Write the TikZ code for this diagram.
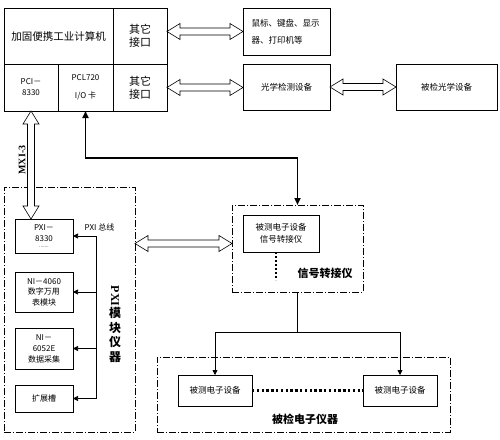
\documentclass[tikz,border=0pt]{standalone}
\usepackage{fontspec}
\setmainfont{Noto Sans CJK SC}
\newfontfamily\serifbf{Liberation Serif}
\usepackage{tikz}
\usetikzlibrary{arrows.meta, positioning, calc}

\begin{document}
\begin{tikzpicture}[x=1pt, y=-1pt, line width=0.8pt,
    cell/.style={draw, inner sep=1pt, outer sep=0pt, align=center, anchor=north west},
    frame/.style={draw, line width=0.7pt, dash pattern=on 7pt off 2pt on 1pt off 2pt,
                  inner sep=0pt, outer sep=0pt, anchor=north west},
    hollow/.style={line width=0.6pt, fill=white, to path={
        let \p1=(\tikztostart), \p2=(\tikztotarget) in
        (\p1) -- ($(\p1)!13pt!(\p2)!8pt!90:(\p2)$) -- ($(\p1)!13pt!(\p2)!3.5pt!90:(\p2)$)
        -- ($(\p2)!13pt!(\p1)!3.5pt!-90:(\p1)$) -- ($(\p2)!13pt!(\p1)!8pt!-90:(\p1)$)
        -- (\p2)
        -- ($(\p2)!13pt!(\p1)!8pt!90:(\p1)$) -- ($(\p2)!13pt!(\p1)!3.5pt!90:(\p1)$)
        -- ($(\p1)!13pt!(\p2)!3.5pt!-90:(\p2)$) -- ($(\p1)!13pt!(\p2)!8pt!-90:(\p2)$)
        -- cycle}},
    bus/.style={line width=0.7pt, -{Triangle[length=5pt, width=5pt]}},
    dots/.style={line width=2.4pt, dash pattern=on 2.4pt off 2.4pt},
    big/.style={font=\fontsize{11}{13}\selectfont},
    small/.style={font=\fontsize{8}{11}\selectfont},
    label/.style={font=\fontsize{11}{13}\selectfont\bfseries}]
  \useasboundingbox (0,0) rectangle (500,439);

  % computer
  \node[cell, big, font=\fontsize{10.5}{13}\selectfont, minimum width=109pt, minimum height=56pt]
        (pc) at (4,8) {加固便携工业计算机};
  \node[cell, big, minimum width=54pt, minimum height=56pt, right=0pt of pc]
        (port1) {其它\\接口};
  \node[cell, small, minimum width=54pt, minimum height=47pt]
        (pci) at (4,64) {PCI－\\8330};
  \node[cell, small, font=\fontsize{8}{18}\selectfont, minimum width=55pt, minimum height=47pt,
        right=0pt of pci] (pcl) {PCL720\\I/O 卡};
  \node[cell, big, minimum width=54pt, minimum height=47pt, right=0pt of pcl]
        (port2) {其它\\接口};

  % peripherals
  \node[cell, small, font=\fontsize{8.5}{17}\selectfont, minimum width=87pt, minimum height=47pt,
        text width=70pt, align=left] (io) at (243,8) {鼠标、键盘、显示\\器、打印机等};
  \node[cell, small, font=\fontsize{8.5}{11}\selectfont, minimum width=87pt, minimum height=46pt]
        (opt) at (243,64) {光学检测设备};
  \node[cell, small, font=\fontsize{8.5}{11}\selectfont, minimum width=101pt, minimum height=46pt]
        (optdut) at (396,64) {被检光学设备};

  \draw[hollow] (port1.east |- io.west) to (io.west);
  \draw[hollow] (port2.east) to (port2.east -| opt.west);
  \draw[hollow] (opt.east) to (optdut.west);

  % PXI chassis
  \node[frame, minimum width=131pt, minimum height=245pt] (pxibox) at (4,187) {};
  \node[cell, small, font=\fontsize{8}{11}\selectfont, minimum width=58pt, minimum height=34pt]
        (p8330) at (15,219) {PXI－\\8330\\[-5pt]{\tiny .......}};
  \node[cell, small, font=\fontsize{8}{10.5}\selectfont, minimum width=58pt, minimum height=40pt]
        (p4060) at (15,272) {NI－4060\\数字万用\\表模块};
  \node[cell, small, font=\fontsize{8}{11}\selectfont, minimum width=58pt, minimum height=41pt]
        (p6052) at (15,328) {NI－\\6052E\\数据采集};
  \node[cell, small, minimum width=58pt, minimum height=27pt]
        (slot) at (15,385) {扩展槽};

  \coordinate (bus) at (96,0);
  \draw[line width=0.7pt] (bus |- p8330) -- (bus |- slot);
  \foreach \m in {p8330, p4060, p6052, slot}
    \draw[bus] (bus |- \m) -- (\m.east);
  \node[small, anchor=west] (buslbl) at (81,227) {PXI 总线};
  \node[font=\fontsize{12}{14.5}\selectfont\bfseries, align=center, inner sep=0pt]
        (pxilbl) at (115,324) {\rotatebox{-90}{\serifbf\bfseries PXI}\\模\\块\\仪\\器};

  \draw[hollow] (pci.south) to (pci.south |- p8330.north);
  \node[rotate=90, font=\serifbf\bfseries\fontsize{10}{12}\selectfont] (mxi) at (22,160) {MXI-3};

  % signal adapter
  \node[frame, minimum width=131pt, minimum height=87pt] (sigbox) at (232,205) {};
  \node[cell, small, font=\fontsize{8.5}{12}\selectfont, minimum width=76pt, minimum height=37pt]
        (sigconv) at (243,215) {被测电子设备\\信号转接仪};
  \draw[line width=2pt, dash pattern=on 2pt off 2pt] ([xshift=-5pt]sigconv.south) -- ++(0,28);
  \node[label] (siglbl) at (325,273) {信号转接仪};

  \draw[line width=1.6pt, {Triangle[length=7pt, width=6pt]}-{Triangle[length=7pt, width=6pt]}]
        (pcl.south) -- ++(0,47) -| (sigbox.north);
  \draw[hollow] ([yshift=5pt]sigbox.west -| pxibox.east) to ([yshift=5pt]sigbox.west);

  % devices under test
  \node[frame, minimum width=293pt, minimum height=75pt] (dutbox) at (157,357) {};
  \node[cell, small, font=\fontsize{8.5}{11}\selectfont, minimum width=74pt, minimum height=31pt]
        (dev1) at (178,375) {被测电子设备};
  \node[cell, small, font=\fontsize{8.5}{11}\selectfont, minimum width=74pt, minimum height=31pt]
        (dev2) at (363,375) {被测电子设备};
  \draw[dots] (dev1) -- (dev2);
  \node[label] (dutlbl) at (305,419) {被检电子仪器};

  \draw[line width=0.8pt] (sigbox.south) -- ++(0,40) coordinate (split);
  \draw[bus, line width=0.8pt] (split) -| (dev1.north);
  \draw[bus, line width=0.8pt] (split) -| (dev2.north);
\end{tikzpicture}
\end{document}
